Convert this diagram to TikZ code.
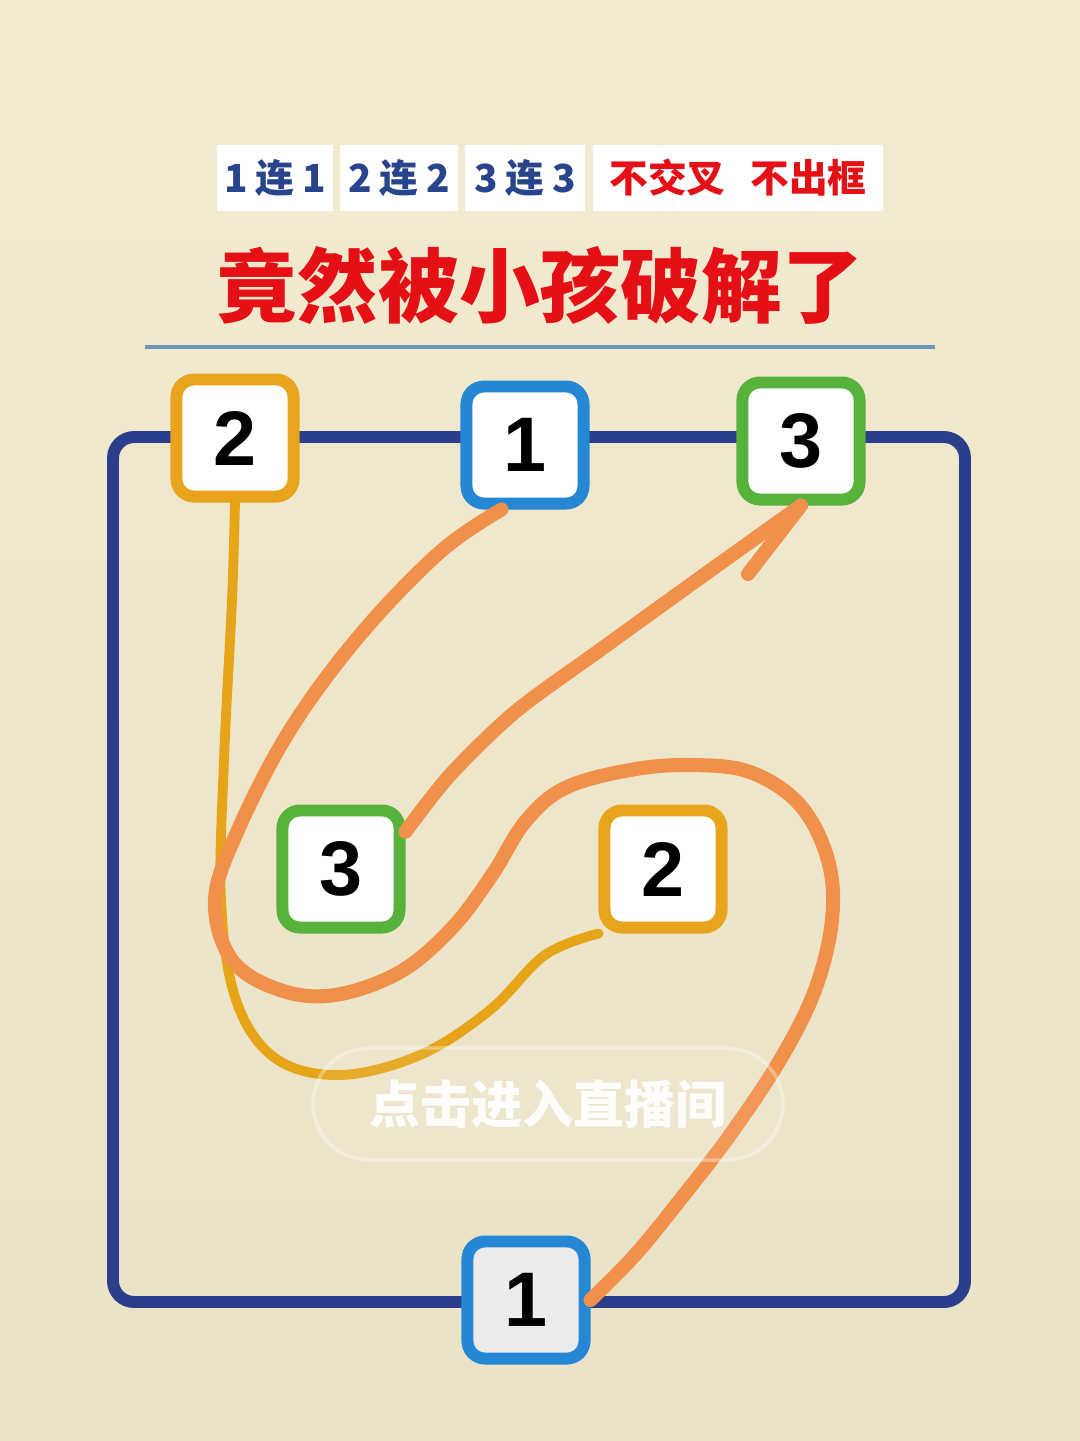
\documentclass[tikz,border=0pt]{standalone}
\usepackage{fontspec}
\setmainfont{Liberation Sans}
\newfontfamily\cjk{Noto Sans CJK SC}
\usepackage{xcolor}
\usepackage{tikz}

\definecolor{bgtop}{RGB}{243,235,208}
\definecolor{bgbot}{RGB}{234,226,199}
\definecolor{frameblue}{RGB}{42,62,140}
\definecolor{boxorange}{RGB}{232,164,28}
\definecolor{boxblue}{RGB}{38,136,212}
\definecolor{boxgreen}{RGB}{86,178,58}
\definecolor{pen}{RGB}{240,144,74}
\definecolor{pengold}{RGB}{230,164,24}
\definecolor{tagblue}{RGB}{40,68,140}
\definecolor{tagred}{RGB}{228,16,22}
\definecolor{rulecol}{RGB}{110,150,185}

\tikzset{
  numbox/.style={draw=#1, line width=3.4pt, fill=white, rounded corners=5pt,
    minimum size=1.17cm, inner sep=0pt, font=\bfseries\fontsize{22}{22}\selectfont},
  tag/.style={fill=white, minimum height=0.65cm, inner sep=0pt,
    font=\cjk\bfseries\fontsize{11}{11}\selectfont},
  penline/.style={draw=pen, line width=4pt, line cap=round, line join=round},
  goldline/.style={draw=pengold, line width=2.8pt, line cap=round, line join=round},
}

\begin{document}
\begin{tikzpicture}[x=.01cm,y=-.01cm]
\shade[top color=bgtop, bottom color=bgbot] (0,0) rectangle (1080,1441);
\useasboundingbox (0,0) rectangle (1080,1441);

\node[tag, minimum width=1.16cm, text=tagblue] (r1) at (275,178) {1\hspace{0.2em}连\hspace{0.2em}1};
\node[tag, minimum width=1.18cm, text=tagblue] (r2) at (399,178) {2\hspace{0.2em}连\hspace{0.2em}2};
\node[tag, minimum width=1.20cm, text=tagblue] (r3) at (525,178) {3\hspace{0.2em}连\hspace{0.2em}3};
\node[tag, minimum width=2.90cm, text=tagred] (r4) at (738,178) {不交叉\hspace{0.65em}不出框};
\node[text=tagred, font=\cjk\bfseries\fontsize{23}{23}\selectfont] (title) at (540,285) {竟然被小孩破解了};
\draw[rulecol, line width=1pt] (145,347) -- (935,347);

\draw[frameblue, line width=3.4pt, rounded corners=6pt] (113,437) rectangle (965,1302);

\node[numbox=boxorange] (t2) at (235,438) {2};
\node[numbox=boxblue] (t1) at (525,445) {1};
\node[numbox=boxgreen] (t3) at (801,441) {3};
\node[numbox=boxgreen] (m3) at (341,869) {3};
\node[numbox=boxorange] (m2) at (663,869) {2};
\node[numbox=boxblue, fill={rgb,255:red,236;green,236;blue,236}] (b1) at (526,1300) {1};

\draw[goldline] plot[smooth, tension=0.6] coordinates {(t2.south) (232,600) (224,760) (221,900)
  (236,1000) (275,1058) (340,1075) (420,1055) (490,1010) (545,955) (m2.south west)};
\draw[penline] plot[smooth, tension=0.6] coordinates {(t1.250) (440,552) (360,635) (290,730)
  (238,830) (215,900) (232,960) (280,990) (335,995) (400,972) (452,928) (492,875) (525,822)
  (565,788) (630,770) (690,765) (750,772) (800,805) (828,860) (832,920) (815,990) (780,1060)
  (730,1135) (680,1200) (635,1255) (b1.east)};
\draw[penline] plot[smooth, tension=0.5] coordinates {(m3.30) (450,775) (515,712) (600,650)
  (690,585) (t3.south)};
\coordinate (barb) at (748,574);
\draw[penline] (t3.south) -- (barb);

\node[draw=white, draw opacity=0.35, fill=white, fill opacity=0.08, text opacity=0.95,
  text=white, line width=1pt, rounded corners=0.56cm, minimum width=4.7cm, minimum height=1.12cm,
  font=\cjk\bfseries\fontsize{14.5}{14.5}\selectfont] (live) at (548,1104) {点击进入直播间};
\end{tikzpicture}
\end{document}
